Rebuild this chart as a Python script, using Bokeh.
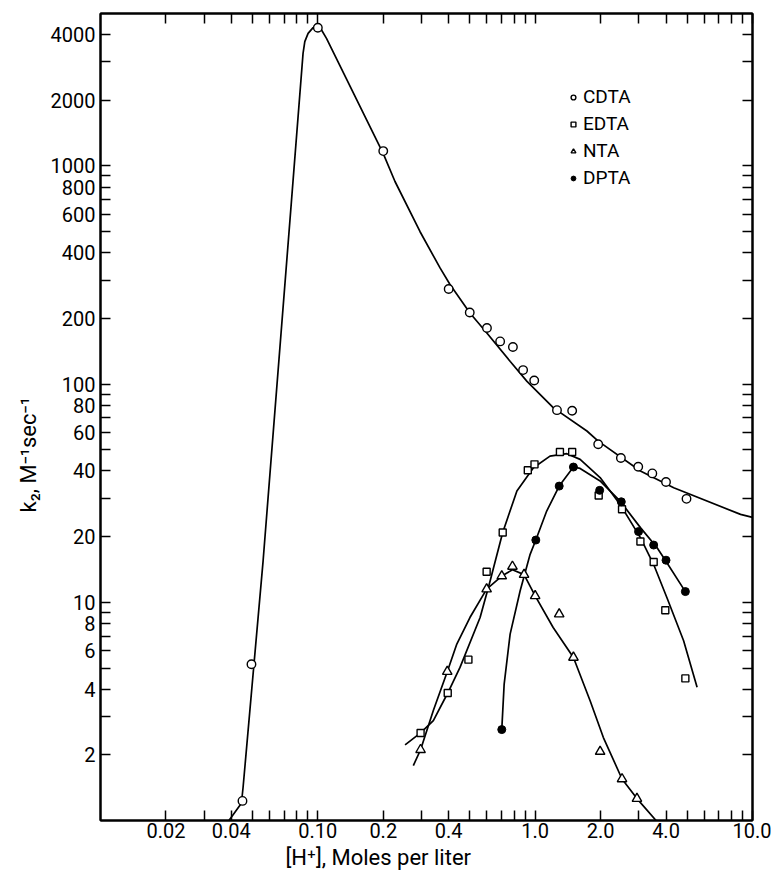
import math
from bokeh.plotting import figure
from bokeh.models import FixedTicker, LogAxis, Legend, LegendItem, Range1d, Title
from bokeh.embed import file_html
from bokeh.resources import INLINE

# ---------------- data ----------------
cdta_x = [0.045, 0.0495, 0.10, 0.20, 0.40, 0.50, 0.60, 0.69, 0.79, 0.88, 0.99, 1.26, 1.48, 1.95, 2.48, 2.98, 3.46, 4.0, 4.97]
cdta_y = [1.23, 5.2, 4300, 1170, 273, 213, 181, 157, 148, 116, 104, 76, 75.5, 53, 45.9, 41.8, 39, 35.6, 29.8]

edta_x = [0.297, 0.396, 0.493, 0.598, 0.709, 0.925, 0.993, 1.30, 1.48, 1.96, 2.51, 3.05, 3.51, 3.97, 4.91]
edta_y = [2.52, 3.84, 5.46, 13.8, 20.9, 40.3, 42.9, 48.9, 48.9, 30.9, 26.7, 19.0, 15.3, 9.2, 4.48]

nta_x = [0.297, 0.394, 0.598, 0.702, 0.786, 0.889, 1.0, 1.29, 1.50, 1.99, 2.51, 2.94]
nta_y = [2.11, 4.81, 11.5, 13.2, 14.6, 13.4, 10.7, 8.83, 5.59, 2.07, 1.55, 1.26]

dpta_x = [0.702, 1.007, 1.29, 1.50, 1.98, 2.49, 2.99, 3.51, 4.0, 4.91]
dpta_y = [2.61, 19.3, 34.1, 41.7, 32.6, 28.9, 21.1, 18.3, 15.6, 11.2]

# fitted curves
cdta_curve_x = [0.039, 0.0445, 0.0453, 0.056, 0.0756, 0.0855, 0.0871, 0.0902, 0.0951, 0.0997, 0.104, 0.1096,
                0.20, 0.2265, 0.295, 0.365, 0.405, 0.501, 0.598, 0.768, 0.917, 1.214, 1.73, 1.95, 3.05, 4.34, 8.81, 10.0]
cdta_curve_y = [1.0, 1.2, 1.42, 15.5, 688, 3283, 3715, 4055, 4305, 4400, 4200, 3845,
                1140, 849, 501, 341, 287, 212, 172, 127, 103, 77.9, 61, 54.8, 40, 33.5, 25.3, 24.5]

edta_curve_x = [0.252, 0.297, 0.340, 0.396, 0.451, 0.558, 0.609, 0.62, 0.709, 0.824, 0.982, 1.17, 1.40, 1.61,
                1.99, 2.46, 3.05, 3.51, 4.04, 4.82, 5.56]
edta_curve_y = [2.22, 2.52, 2.87, 3.84, 5.03, 8.52, 11.7, 12.5, 20.9, 32.4, 41.4, 46.8, 48.0, 45.2,
                37.3, 28.1, 19.8, 14.9, 10.5, 6.67, 4.08]

nta_curve_x = [0.275, 0.297, 0.340, 0.394, 0.436, 0.501, 0.598, 0.702, 0.786, 0.889, 1.0, 1.21, 1.50, 1.79,
               2.06, 2.51, 2.94, 3.6]
nta_curve_y = [1.785, 2.11, 3.19, 4.81, 6.44, 8.52, 11.5, 13.2, 14.1, 13.4, 10.7, 7.67, 5.59, 3.54,
               2.40, 1.55, 1.26, 1.0]

dpta_curve_x = [0.702, 0.72, 0.767, 0.853, 0.948, 1.007, 1.13, 1.29, 1.50, 1.61, 1.99, 2.46, 3.05, 3.64, 3.97, 4.91]
dpta_curve_y = [2.61, 4.22, 7.15, 11.3, 16.6, 19.3, 26.2, 34.1, 41.7, 41.1, 36.0, 29.1, 22.0, 17.8, 15.6, 11.2]

# axis ticks
x_major = [0.02, 0.04, 0.1, 0.2, 0.4, 1.0, 2.0, 4.0, 10.0]
x_labels = ["0.02", "0.04", "0.10", "0.2", "0.4", "1.0", "2.0", "4.0", "10.0"]
x_minor = [0.03, 0.05, 0.06, 0.07, 0.08, 0.09, 0.3, 0.5, 0.6, 0.7, 0.8, 0.9, 3.0, 5.0, 6.0, 7.0, 8.0, 9.0]
y_major = [2, 4, 6, 8, 10, 20, 40, 60, 80, 100, 200, 400, 600, 800, 1000, 2000, 4000]
y_labels = ["2", "4", "6", "8", "10", "20", "40", "60", "80", "100", "200", "400", "600", "800", "1000", "2000", "4000"]
y_minor = [3, 5, 7, 9, 30, 50, 70, 90, 300, 500, 700, 900, 3000]

series_names = ["CDTA", "EDTA", "NTA", "DPTA"]
x_title = "[H\u207a], Moles per liter"
y_title = "k\u2082, M\u207b\u00b9sec\u207b\u00b9"

FONT = "Roboto"

p = figure(x_axis_type="log", y_axis_type="log",
           x_range=Range1d(0.01, 10.0), y_range=Range1d(1.0, 5000.0),
           frame_width=652, frame_height=807,
           min_border_left=100, min_border_right=19, min_border_top=13, min_border_bottom=30,
           output_backend="svg", toolbar_location=None)
p.grid.visible = False
p.outline_line_color = "black"
p.outline_line_width = 2
p.background_fill_color = "white"
p.border_fill_color = "white"


def style_axis(ax):
    ax.axis_line_width = 2
    ax.axis_line_color = "black"
    ax.major_tick_in = 10
    ax.major_tick_out = 0
    ax.minor_tick_in = 10
    ax.minor_tick_out = 0
    ax.major_tick_line_width = 1.5
    ax.minor_tick_line_width = 1.5
    ax.major_tick_line_color = "black"
    ax.minor_tick_line_color = "black"
    ax.major_label_text_font = FONT
    ax.major_label_text_font_size = "20px"
    ax.major_label_text_color = "black"


xa = p.xaxis[0]
xa.ticker = FixedTicker(ticks=x_major, minor_ticks=x_minor)
xa.major_label_overrides = {v: s for v, s in zip(x_major, x_labels)}
xa.major_label_standoff = 2
style_axis(xa)

ya = p.yaxis[0]
ya.ticker = FixedTicker(ticks=y_major, minor_ticks=y_minor)
ya.major_label_overrides = {v: s for v, s in zip(y_major, y_labels)}
ya.major_label_standoff = 5
style_axis(ya)

# frame ticks on the top and right sides: every tick as a "minor" tick -> no labels drawn
top = LogAxis(ticker=FixedTicker(ticks=[], minor_ticks=x_major + x_minor), major_label_standoff=0)
style_axis(top)
p.add_layout(top, "above")
right = LogAxis(ticker=FixedTicker(ticks=[], minor_ticks=y_major + y_minor), major_label_standoff=0)
style_axis(right)
p.add_layout(right, "right")

# curves
for cx, cy in [(cdta_curve_x, cdta_curve_y), (edta_curve_x, edta_curve_y),
               (nta_curve_x, nta_curve_y), (dpta_curve_x, dpta_curve_y)]:
    p.line(cx, cy, line_color="black", line_width=1.7)

r_cdta = p.scatter(cdta_x, cdta_y, marker="circle", size=8.5, fill_color="white",
                   line_color="black", line_width=1.4)
r_edta = p.scatter(edta_x, edta_y, marker="square", size=7, fill_color="white",
                   line_color="black", line_width=1.4)
r_nta = p.scatter(nta_x, nta_y, marker="triangle", size=9.5, fill_color="white",
                  line_color="black", line_width=1.4)
r_dpta = p.scatter(dpta_x, dpta_y, marker="circle", size=8, fill_color="black",
                   line_color="black", line_width=1)

legend = Legend(items=[LegendItem(label=n, renderers=[r]) for n, r in
                       zip(series_names, [r_cdta, r_edta, r_nta, r_dpta])],
                location=(467, 631), orientation="vertical",
                glyph_width=12, glyph_height=20, label_height=20, label_width=40,
                label_standoff=4, spacing=4, padding=0, margin=0,
                border_line_alpha=0, background_fill_alpha=0,
                label_text_font=FONT, label_text_font_size="19px", label_text_color="black")
p.add_layout(legend)

# axis titles, placed off-centre like the reference
p.add_layout(Title(text=x_title, align="left", offset=185, standoff=4,
                   text_font=FONT, text_font_size="22px", text_font_style="normal",
                   text_color="black"), "below")
p.add_layout(Title(text=y_title, align="left", offset=308, standoff=14,
                   text_font=FONT, text_font_size="22px", text_font_style="normal",
                   text_color="black"), "left")

open("out.html", "w").write(file_html(p, INLINE))
